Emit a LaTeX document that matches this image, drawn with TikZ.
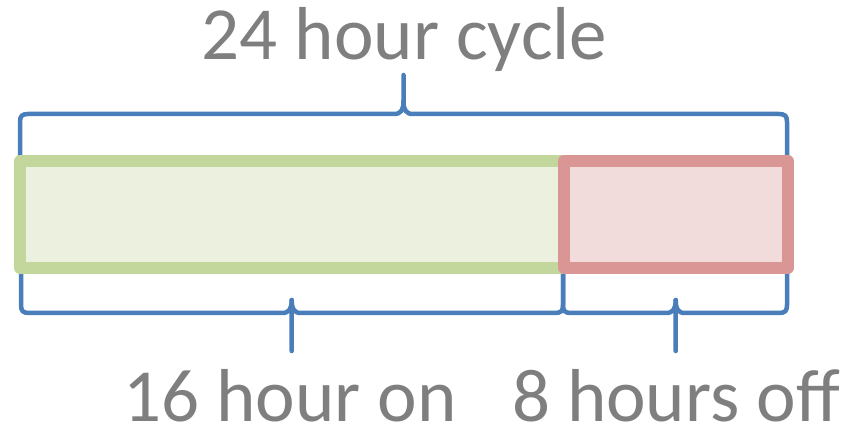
\documentclass[tikz,border=0pt]{standalone}
\usepackage{fontspec}
\setmainfont{Carlito}
\usepackage{xcolor}
\definecolor{braceblue}{RGB}{74,126,187}
\definecolor{ongreen}{RGB}{195,214,155}
\definecolor{onfill}{RGB}{235,241,222}
\definecolor{offred}{RGB}{217,150,148}
\definecolor{offfill}{RGB}{242,220,219}
\definecolor{txtgray}{RGB}{127,127,127}

\begin{document}
\begin{tikzpicture}[x=1pt,y=1pt,yscale=-1,xscale=1,
  bracepath/.style={draw=braceblue,line width=4.5pt,line cap=round,line join=round},
  onbox/.style={draw=ongreen,fill=onfill,line width=11.5pt,line join=round},
  offbox/.style={draw=offred,fill=offfill,line width=11.5pt,line join=round},
  lbl/.style={anchor=base,inner sep=0pt,text=txtgray,font=\fontsize{75}{90}\selectfont}]
\useasboundingbox (0,0) rectangle (846,430);

%Shape: Brace [top, 24 hours]
\draw [bracepath] (20,160) -- (20,122) .. controls (20,116) and (22,114) .. (28,114) -- (394,114) .. controls (401,114) and (403.5,110) .. (403.5,101) -- (403.5,75) ;
\draw [bracepath] (403.5,101) .. controls (403.5,110) and (406,114) .. (413,114) -- (779,114) .. controls (785,114) and (787,116) .. (787,122) -- (787,160) ;
%Shape: Brace [bottom, on]
\draw [bracepath] (21,268) -- (21,305) .. controls (21,311) and (23,313) .. (29,313) -- (282,313) .. controls (289,313) and (291.7,309) .. (291.7,300) -- (291.7,351) ;
\draw [bracepath] (291.7,300) .. controls (291.7,309) and (294,313) .. (301,313) -- (555,313) .. controls (561,313) and (563,311) .. (563,305) -- (563,268) ;
%Shape: Brace [bottom, off]
\draw [bracepath] (563,268) -- (563,305) .. controls (563,311) and (565,313) .. (571,313) -- (666,313) .. controls (673,313) and (675.7,309) .. (675.7,300) -- (675.7,351) ;
\draw [bracepath] (675.7,300) .. controls (675.7,309) and (678,313) .. (685,313) -- (779,313) .. controls (785,313) and (787,311) .. (787,305) -- (787,268) ;

%Shape: Rectangle [on]
\draw [onbox] (20,161) -- (564,161) -- (564,268) -- (20,268) -- cycle ;
%Shape: Rectangle [off]
\draw [offbox] (564,161) -- (788,161) -- (788,268) -- (564,268) -- cycle ;

% Text Node
\node [lbl] (cycle) at (404.5,60) {24 hour cycle};
% Text Node
\node [lbl] (hourson) at (290,421) {16 hour on};
% Text Node
\node [lbl] (hoursoff) at (676,421) {8 hours off};

\end{tikzpicture}
\end{document}
